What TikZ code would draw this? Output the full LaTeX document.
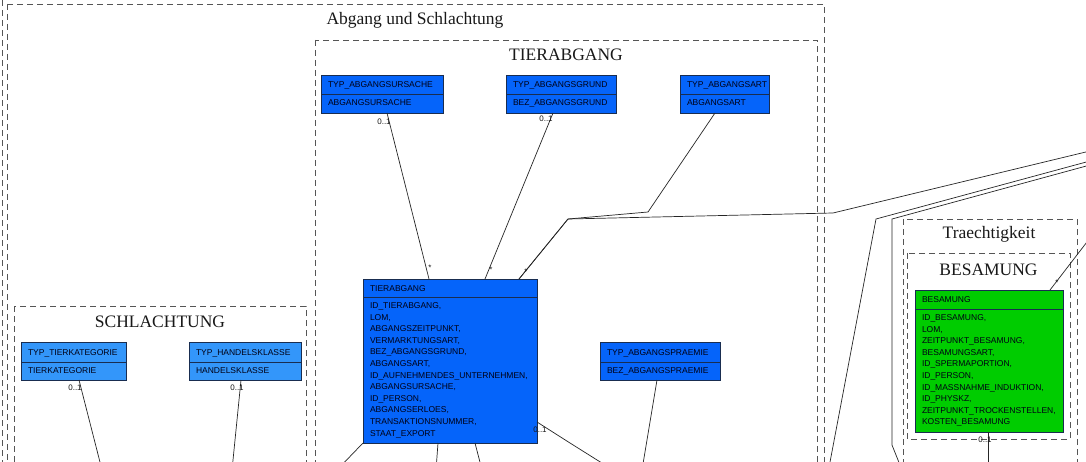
\documentclass[tikz,border=0pt]{standalone}
\usepackage{fontspec}
\setmainfont{Liberation Serif}
\setsansfont{Liberation Sans}
\usetikzlibrary{calc}
\definecolor{entblue}{RGB}{5,100,250}
\definecolor{entlblue}{RGB}{51,150,250}
\definecolor{entgreen}{RGB}{0,204,0}
\definecolor{entborder}{RGB}{25,45,80}
\definecolor{cgray}{RGB}{85,85,85}
\tikzset{
 entbox/.style={draw=entborder, line width=0.9pt, inner sep=0pt, outer sep=0pt},
 entline/.style={draw=entborder, line width=0.9pt},
 enttext/.style={font=\fontsize{8.5}{11.6}\selectfont\sffamily, text=black!92!blue, inner sep=0pt, outer sep=0pt},
 container/.style={draw=cgray, dash pattern=on 6pt off 4pt, line width=0.8pt},
 ctitle/.style={font=\fontsize{17.5}{20}\selectfont, anchor=base, inner sep=0pt, text=black!90},
 conn/.style={draw=black!85, line width=0.7pt},
 mult/.style={font=\fontsize{8}{9}\selectfont\sffamily, inner sep=0pt, text=black!90},
}
% name, x, y, w, h, header height, fill, header, body
\newcommand\ent[9]{%
 \node[entbox,fill=#7,minimum width=#4pt,minimum height=#5pt,anchor=north west] (#1) at (#2,#3) {};
 \draw[entline] ([shift={(0,#6)}]#1.north west) -- ([shift={(0,#6)}]#1.north east);
 \node[enttext,anchor=base west] (#1-h) at ([shift={(7,{#6/2+3})}]#1.north west) {#8};
 \node[enttext,anchor=north west,align=left] (#1-b) at ([shift={(7,{#6+5.5})}]#1.north west) {#9};
}
\begin{document}
\begin{tikzpicture}[x=1pt,y=-1pt]
\useasboundingbox (0,0) rectangle (1086,462);
\clip (0,0) rectangle (1086,462);
\fill[white] (0,0) rectangle (1086,462);

% containers
\draw[container] (2,-30) rectangle (1200,500);
\draw[container] (7,4) rectangle (824,500);
\node[ctitle] (t-abg) at (415,24.5) {Abgang und Schlachtung};
\draw[container] (315,40) rectangle (817,500);
\node[ctitle] (t-tier) at (566,61) {TIERABGANG};
\draw[container] (14,306) rectangle (306,500);
\node[ctitle] (t-schl) at (160,327) {SCHLACHTUNG};
\draw[container] (903,219) rectangle (1077,500);
\node[ctitle] (t-trae) at (989,239) {Traechtigkeit};
\draw[container] (907,253) rectangle (1070,439);
\node[ctitle] (t-bes) at (988.5,275) {BESAMUNG};

% entities
\ent{tursache}{321}{75}{122}{38}{19}{entblue}{TYP\_ABGANGSURSACHE}{ABGANGSURSACHE}
\ent{tgrund}{506}{75}{110}{38}{19}{entblue}{TYP\_ABGANGSGRUND}{BEZ\_ABGANGSGRUND}
\ent{tart}{680}{75}{89}{38}{19}{entblue}{TYP\_ABGANGSART}{ABGANGSART}
\ent{tkat}{21}{342}{105}{38}{20}{entlblue}{TYP\_TIERKATEGORIE}{TIERKATEGORIE}
\ent{thandel}{189}{342}{112}{38}{20}{entlblue}{TYP\_HANDELSKLASSE}{HANDELSKLASSE}
\ent{tpraemie}{600}{342}{120}{38}{20}{entblue}{TYP\_ABGANGSPRAEMIE}{BEZ\_ABGANGSPRAEMIE}
\ent{tierabgang}{363}{279}{174}{164}{18}{entblue}{TIERABGANG}{ID\_TIERABGANG,\\LOM,\\ABGANGSZEITPUNKT,\\VERMARKTUNGSART,\\BEZ\_ABGANGSGRUND,\\ABGANGSART,\\ID\_AUFNEHMENDES\_UNTERNEHMEN,\\ABGANGSURSACHE,\\ID\_PERSON,\\ABGANGSERLOES,\\TRANSAKTIONSNUMMER,\\STAAT\_EXPORT}
\ent{besamung}{915}{290}{148}{142}{19}{entgreen}{BESAMUNG}{ID\_BESAMUNG,\\LOM,\\ZEITPUNKT\_BESAMUNG,\\BESAMUNGSART,\\ID\_SPERMAPORTION,\\ID\_PERSON,\\ID\_MASSNAHME\_INDUKTION,\\ID\_PHYSKZ,\\ZEITPUNKT\_TROCKENSTELLEN,\\KOSTEN\_BESAMUNG}

% free ends
\coordinate (r1) at (1090,151);
\coordinate (r2) at (1090,161);
\coordinate (r3) at (1090,165);
\coordinate (r4) at (1090,238);
\coordinate (b1) at (102,470);
\coordinate (b2) at (232,470);
\coordinate (b3) at (642,470);
\coordinate (b4) at (337,470);
\coordinate (b5) at (436,470);
\coordinate (b6) at (482,470);
\coordinate (b7) at (613,470);
\coordinate (b8) at (828.5,470);
\coordinate (b9) at (902,470);
\coordinate (b10) at (988,470);

% connectors
\draw[conn] ([xshift=66pt]tursache.south west) -- ([xshift=66pt]tierabgang.north west);
\draw[conn] ([xshift=47pt]tgrund.south west) -- ([xshift=122pt]tierabgang.north west);
\draw[conn] ([xshift=35pt]tart.south west) -- (648,212) -- (568,219) -- ([xshift=156pt]tierabgang.north west);
\draw[conn] (r1) -- (833,213) -- (568,219) -- ([xshift=156pt]tierabgang.north west);
\draw[conn] ([xshift=58pt]tkat.south west) -- (b1);
\draw[conn] ([xshift=52pt]thandel.south west) -- (b2);
\draw[conn] ([xshift=57pt]tpraemie.south west) -- (b3);
\draw[conn] (tierabgang.south west) -- (b4);
\draw[conn] ([xshift=75pt]tierabgang.south west) -- (b5);
\draw[conn] ([xshift=112pt]tierabgang.south west) -- (b6);
\draw[conn] ([yshift=-143pt]tierabgang.north east) -- (570,443) -- (b7);
\draw[conn] (r2) -- (876,219) -- (b8);
\draw[conn] (r3) -- (892,219) -- (892,445) -- (b9);
\draw[conn] (r4) -- ([xshift=135pt]besamung.north west);
\draw[conn] ([xshift=73pt]besamung.south west) -- (b10);

% multiplicities
\node[mult] (m1) at (384,121.5) {0..1};
\node[mult] (m2) at (546,118.5) {0..1};
\node[mult] (m3) at (75,388) {0..1};
\node[mult] (m4) at (237,388) {0..1};
\node[mult] (m5) at (540,430) {0..1};
\node[mult] (m6) at (985,440) {0..1};
\node[mult] (s1) at (430,268) {*};
\node[mult] (s2) at (491,270) {*};
\node[mult] (s3) at (526,272) {*};
\node[mult] (s4) at (1057,283) {*};
\end{tikzpicture}
\end{document}
